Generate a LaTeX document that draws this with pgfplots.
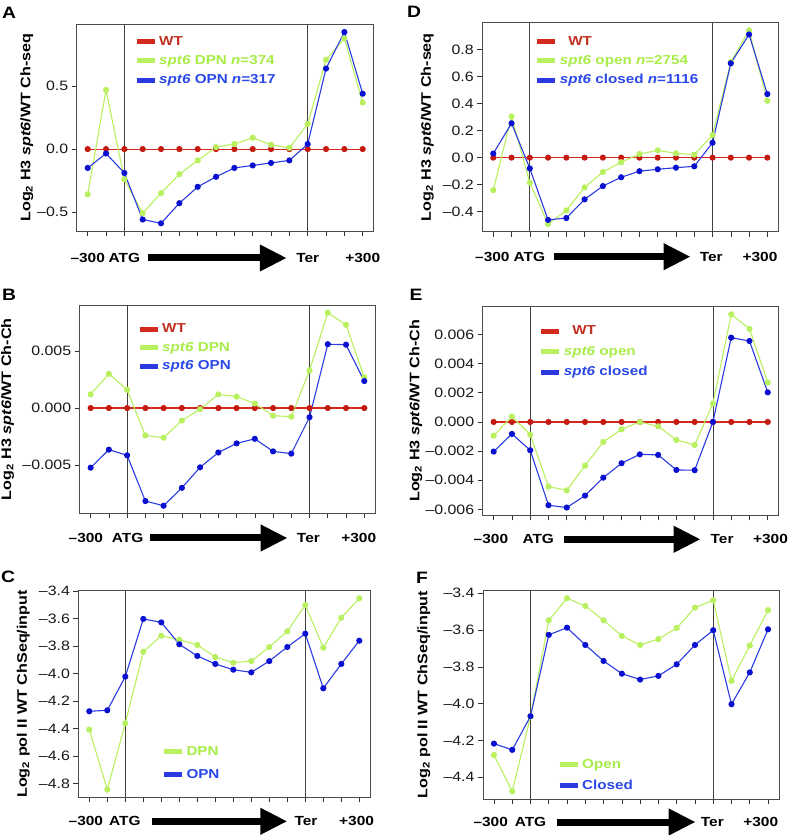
\documentclass[border=0pt]{standalone}
\usepackage{pgfplots}
\pgfplotsset{compat=1.18}
\usepackage{fontspec}
\setmainfont{Liberation Sans}[FakeStretch=1.17]
\usetikzlibrary{arrows.meta}
\definecolor{wtred}{HTML}{D42A1E}
\definecolor{wtdot}{HTML}{C41A10}
\definecolor{wttext}{HTML}{C03020}
\definecolor{lime}{HTML}{B8F060}
\definecolor{limetext}{HTML}{A8EC48}
\definecolor{myblue}{HTML}{2A3AE0}
\definecolor{bluedot}{HTML}{0A10D0}
\definecolor{bluetext}{HTML}{2A48E8}
\tikzset{xlab/.style={font=\bfseries\fontsize{13.2}{15}\selectfont, inner sep=0pt, anchor=center},
  plet/.style={font=\bfseries\fontsize{16.5}{18}\selectfont, inner sep=0pt}}
\pgfplotsset{
 rstyle/.style={
  scale only axis, anchor=south west, clip=false,
  xmin=-0.6, xmax=15.6, xtick={0,...,15}, xticklabels={},
  xtick pos=bottom, ytick pos=left, scaled y ticks=false,
  tick align=outside, major tick length=5pt,
  tick style={color=black!80, line width=0.6pt},
  axis line style={color=black!70, line width=0.9pt},
  yticklabel style={font=\fontsize{13.6}{15}\selectfont, text=black!90},
  ylabel style={font=\bfseries\fontsize{13.8}{15}\selectfont, anchor=center},
  legend cell align=left,
  legend style={draw=none, fill=none, inner sep=0pt, anchor=west,
    font=\bfseries\fontsize{13}{15}\selectfont,
    nodes={inner xsep=2pt, inner ysep=1pt, text height=10pt, text depth=3pt}},
  legend image code/.code={\draw[##1, line width=5pt, mark=none] (0pt,0pt) -- (18pt,0pt);},
 },
 wtline/.style={wtred, line width=1.1pt, mark=*, mark size=2.5pt, mark options={fill=wtdot, draw=wtdot}},
 gline/.style={lime, line width=1.1pt, mark=*, mark size=2.5pt, mark options={fill=lime, draw=lime}},
 bline/.style={myblue, line width=1.1pt, mark=*, mark size=2.5pt, mark options={fill=bluedot, draw=bluedot}},
}
\newcommand{\vlines}{%
 \draw[black!75, line width=0.8pt] ({axis cs:2,0}|-{rel axis cs:0,0}) -- ({axis cs:2,0}|-{rel axis cs:0,1});
 \draw[black!75, line width=0.8pt] ({axis cs:12,0}|-{rel axis cs:0,0}) -- ({axis cs:12,0}|-{rel axis cs:0,1});
}
\newcommand{\deco}[7]{%
 \node[xlab, yshift=-#7] at ({axis cs:#1,0}|-{rel axis cs:0,0}) {–300};
 \node[xlab, yshift=-#7] at ({axis cs:#2,0}|-{rel axis cs:0,0}) {ATG};
 \draw[line width=7pt, -{Triangle[length=27pt,width=25pt]}, yshift=-#7] ({axis cs:#3,0}|-{rel axis cs:0,0}) -- ({axis cs:#4,0}|-{rel axis cs:0,0});
 \node[xlab, yshift=-#7] at ({axis cs:#5,0}|-{rel axis cs:0,0}) {Ter};
 \node[xlab, yshift=-#7] at ({axis cs:#6,0}|-{rel axis cs:0,0}) {+300};
}
\newcommand{\wtzero}{\addplot[wtline] coordinates {(0,0)(1,0)(2,0)(3,0)(4,0)(5,0)(6,0)(7,0)(8,0)(9,0)(10,0)(11,0)(12,0)(13,0)(14,0)(15,0)};}
\begin{document}
\begin{tikzpicture}
\useasboundingbox (0,0) rectangle (788pt,835pt);
\node[plet] at (9pt,822pt) {A};
\node[plet] at (414pt,823pt) {D};
\node[plet] at (9pt,540pt) {B};
\node[plet] at (416pt,540pt) {E};
\node[plet] at (8pt,258pt) {C};
\node[plet] at (422pt,257pt) {F};

% ---------- A ----------
\begin{axis}[rstyle, at={(76.7pt,604pt)}, width=297pt, height=206.6pt,
  ymin=-0.651, ymax=0.991, ytick={-0.5,0,0.5}, yticklabels={–0.5,0.0,0.5},
  ylabel={Log\textsubscript{2} H3 \textit{spt6}/WT Ch-seq},
  ylabel style={at={(axis description cs:-0.168,0.5)}},
  legend style={at={(axis description cs:0.193,0.823)}, row sep=4.3pt}]
\vlines
\wtzero
\addplot[gline] coordinates {(0,-0.36)(1,0.47)(2,-0.24)(3,-0.51)(4,-0.35)(5,-0.20)(6,-0.09)(7,0.016)(8,0.04)(9,0.09)(10,0.034)(11,0.01)(12,0.20)(13,0.71)(14,0.88)(15,0.37)};
\addplot[bline] coordinates {(0,-0.15)(1,-0.035)(2,-0.19)(3,-0.56)(4,-0.59)(5,-0.43)(6,-0.30)(7,-0.22)(8,-0.15)(9,-0.13)(10,-0.11)(11,-0.09)(12,0.04)(13,0.64)(14,0.93)(15,0.44)};
\legend{\textcolor{wttext}{WT},\textcolor{limetext}{\textit{spt6} DPN \textit{n}=374},\textcolor{bluetext}{\textit{spt6} OPN \textit{n}=317}}
\deco{0}{2}{3.3}{10.86}{12}{15}{27pt}
\end{axis}

% ---------- D ----------
\begin{axis}[rstyle, at={(482.3pt,603.3pt)}, width=296pt, height=209pt,
  ymin=-0.547, ymax=0.997, ytick={-0.4,-0.2,0,0.2,0.4,0.6,0.8}, yticklabels={–0.4,–0.2,0.0,0.2,0.4,0.6,0.8},
  ylabel={Log\textsubscript{2} H3 \textit{spt6}/WT Ch-seq},
  ylabel style={at={(axis description cs:-0.186,0.5)}},
  legend style={at={(axis description cs:0.177,0.817)}, row sep=4.3pt}]
\vlines
\wtzero
\addplot[gline] coordinates {(0,-0.24)(1,0.305)(2,-0.185)(3,-0.49)(4,-0.39)(5,-0.22)(6,-0.106)(7,-0.034)(8,0.027)(9,0.054)(10,0.032)(11,0.022)(12,0.167)(13,0.707)(14,0.94)(15,0.42)};
\addplot[bline] coordinates {(0,0.03)(1,0.254)(2,-0.08)(3,-0.46)(4,-0.446)(5,-0.308)(6,-0.21)(7,-0.145)(8,-0.10)(9,-0.086)(10,-0.074)(11,-0.064)(12,0.11)(13,0.697)(14,0.91)(15,0.47)};
\legend{\textcolor{wttext}{\ \ WT},\textcolor{limetext}{\textit{spt6} open \textit{n}=2754},\textcolor{bluetext}{\textit{spt6} closed \textit{n}=1116}}
\deco{-0.05}{1.98}{3.3}{10.8}{11.93}{14.6}{25pt}
\end{axis}

% ---------- B ----------
\begin{axis}[rstyle, at={(79.7pt,321.5pt)}, width=295.5pt, height=208.5pt,
  ymin=-0.00925, ymax=0.00904, ytick={-0.005,0,0.005}, yticklabels={–0.005,0.000,0.005},
  ylabel={Log\textsubscript{2} H3 \textit{spt6}/WT Ch-Ch},
  ylabel style={at={(axis description cs:-0.244,0.5)}},
  legend style={at={(axis description cs:0.194,0.794)}, row sep=3.5pt}]
\vlines
\wtzero
\addplot[gline] coordinates {(0,0.0012)(1,0.0030)(2,0.0016)(3,-0.0024)(4,-0.0026)(5,-0.0011)(6,-0.0001)(7,0.0012)(8,0.0010)(9,0.0004)(10,-0.00067)(11,-0.00076)(12,0.0033)(13,0.00836)(14,0.0073)(15,0.0027)};
\addplot[bline] coordinates {(0,-0.00523)(1,-0.00365)(2,-0.00415)(3,-0.00816)(4,-0.00857)(5,-0.0070)(6,-0.0052)(7,-0.0039)(8,-0.0031)(9,-0.0027)(10,-0.0038)(11,-0.0040)(12,-0.0008)(13,0.0056)(14,0.00556)(15,0.00237)};
\legend{\textcolor{wttext}{WT},\textcolor{limetext}{\textit{spt6} DPN},\textcolor{bluetext}{\textit{spt6} OPN}}
\deco{-0.26}{2.03}{3.25}{10.8}{11.94}{14.7}{24.5pt}
\end{axis}

% ---------- E ----------
\begin{axis}[rstyle, at={(482.7pt,319.7pt)}, width=296pt, height=208.7pt,
  ymin=-0.0064, ymax=0.00791, ytick={-0.006,-0.004,-0.002,0,0.002,0.004,0.006},
  yticklabels={–0.006,–0.004,–0.002,0.000,0.002,0.004,0.006},
  ylabel={Log\textsubscript{2} H3 \textit{spt6}/WT Ch-Ch},
  ylabel style={at={(axis description cs:-0.226,0.5)}},
  legend style={at={(axis description cs:0.189,0.784)}, row sep=5.5pt}]
\vlines
\wtzero
\addplot[gline] coordinates {(0,-0.00094)(1,0.00037)(2,-0.00087)(3,-0.00443)(4,-0.00469)(5,-0.0030)(6,-0.00137)(7,-0.0005)(8,0.0)(9,-0.0003)(10,-0.00123)(11,-0.00158)(12,0.00126)(13,0.00738)(14,0.00638)(15,0.0027)};
\addplot[bline] coordinates {(0,-0.00203)(1,-0.00082)(2,-0.00194)(3,-0.00571)(4,-0.00587)(5,-0.00505)(6,-0.00382)(7,-0.00283)(8,-0.00222)(9,-0.00226)(10,-0.00329)(11,-0.00331)(12,0.0)(13,0.00578)(14,0.00555)(15,0.00203)};
\legend{\textcolor{wttext}{\ \ WT},\textcolor{limetext}{\textit{spt6} open},\textcolor{bluetext}{\textit{spt6} closed}}
\deco{-0.15}{2.44}{3.86}{11.33}{12.5}{15.15}{24pt}
\end{axis}

% ---------- C ----------
\begin{axis}[rstyle, at={(78.5pt,37.7pt)}, width=291.6pt, height=206.7pt,
  ymin=-4.899, ymax=-3.397, ytick={-4.8,-4.6,-4.4,-4.2,-4.0,-3.8,-3.6,-3.4},
  yticklabels={–4.8,–4.6,–4.4,–4.2,–4.0,–3.8,–3.6,–3.4},
  ylabel={Log\textsubscript{2} pol II WT ChSeq/input},
  ylabel style={at={(axis description cs:-0.189,0.5)}},
  legend style={at={(axis description cs:0.284,0.164)}, row sep=8pt}]
\vlines
\addplot[gline] coordinates {(0,-4.407)(1,-4.843)(2,-4.361)(3,-3.841)(4,-3.725)(5,-3.754)(6,-3.792)(7,-3.880)(8,-3.921)(9,-3.909)(10,-3.807)(11,-3.693)(12,-3.502)(13,-3.812)(14,-3.594)(15,-3.453)};
\addplot[bline] coordinates {(0,-4.274)(1,-4.267)(2,-4.022)(3,-3.603)(4,-3.628)(5,-3.787)(6,-3.872)(7,-3.930)(8,-3.972)(9,-3.991)(10,-3.909)(11,-3.807)(12,-3.710)(13,-4.107)(14,-3.930)(15,-3.761)};
\legend{\textcolor{limetext}{DPN},\textcolor{bluetext}{OPN}}
\deco{-0.19}{1.98}{3.46}{11.0}{12.04}{14.85}{24pt}
\end{axis}

% ---------- F ----------
\begin{axis}[rstyle, at={(483pt,36pt)}, width=296pt, height=208.5pt,
  ymin=-4.518, ymax=-3.385, ytick={-4.4,-4.2,-4.0,-3.8,-3.6,-3.4},
  yticklabels={–4.4,–4.2,–4.0,–3.8,–3.6,–3.4},
  ylabel={Log\textsubscript{2} pol II WT ChSeq/input},
  ylabel style={at={(axis description cs:-0.2,0.5)}},
  legend style={at={(axis description cs:0.25,0.114)}, row sep=5.7pt}]
\vlines
\addplot[gline] coordinates {(0,-4.279)(1,-4.476)(2,-4.070)(3,-3.547)(4,-3.427)(5,-3.469)(6,-3.547)(7,-3.632)(8,-3.681)(9,-3.649)(10,-3.589)(11,-3.478)(12,-3.438)(13,-3.876)(14,-3.684)(15,-3.492)};
\addplot[bline] coordinates {(0,-4.217)(1,-4.251)(2,-4.068)(3,-3.626)(4,-3.587)(5,-3.681)(6,-3.768)(7,-3.837)(8,-3.869)(9,-3.849)(10,-3.786)(11,-3.681)(12,-3.601)(13,-4.003)(14,-3.830)(15,-3.596)};
\legend{\textcolor{limetext}{Open},\textcolor{bluetext}{Closed}}
\deco{-0.18}{2.0}{3.47}{11.04}{11.95}{14.6}{23pt}
\end{axis}
\end{tikzpicture}
\end{document}
